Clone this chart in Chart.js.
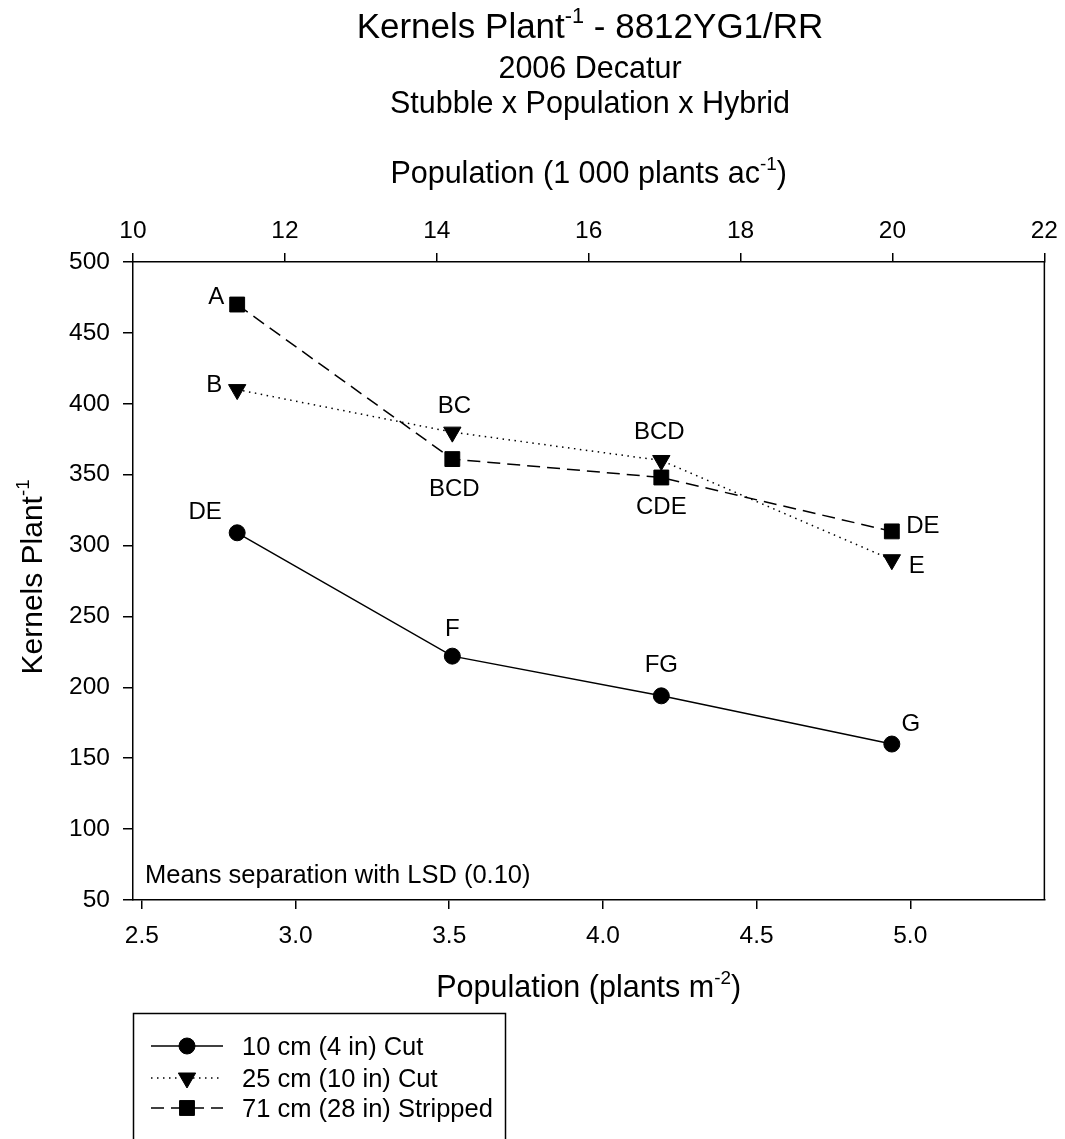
<!DOCTYPE html>
<html><head><meta charset="utf-8">
<script src="https://cdn.jsdelivr.net/npm/chart.js@4.4.0/dist/chart.umd.min.js"></script>
<style>html,body{margin:0;padding:0;background:#fff;} canvas{display:block;}</style>
</head><body>
<canvas id="c" width="1065" height="1139"></canvas>
<script>
// ---- data ----
const populationM2 = [2.81, 3.51, 4.19, 4.94];
const cut10 = [309, 222, 194, 160];
const cut25 = [410, 380, 360, 290];
const stripped71 = [470, 361, 348, 310];
const cut10Letters = ['DE', 'F', 'FG', 'G'];
const cut25Letters = ['B', 'BC', 'BCD', 'E'];
const stripped71Letters = ['A', 'BCD', 'CDE', 'DE'];
const seriesNames = ['10 cm (4 in) Cut', '25 cm (10 in) Cut', '71 cm (28 in) Stripped'];
const bottomTicks = [2.5, 3.0, 3.5, 4.0, 4.5, 5.0];
const topTicks = [10, 12, 14, 16, 18, 20, 22];
const yTicks = [50, 100, 150, 200, 250, 300, 350, 400, 450, 500];
const ACRE_TO_M2 = 0.247105; // 1000 plants/ac -> plants/m2

const FONT = "'Liberation Sans', Arial, sans-serif";

// label placement (pixel offsets from each point)
const letterOffsets = [
  [[-32, -22], [0, -29], [0, -32], [19, -22]],
  [[-23, -6], [2, -28], [-2, -30], [25, 5]],
  [[-21, -9], [2, 28], [0, 28], [31, -7]]
];
const letterSets = [cut10Letters, cut25Letters, stripped71Letters];

function pts(ys) { return populationM2.map((x, i) => ({ x: x, y: ys[i] })); }

function drawRich(ctx, parts, x, y, size, align) {
  const supSize = size * 0.62;
  let w = 0;
  parts.forEach(p => {
    ctx.font = (p[1] ? supSize : size) + 'px ' + FONT;
    w += ctx.measureText(p[0]).width;
  });
  let cx = align === 'center' ? x - w / 2 : x;
  ctx.textAlign = 'left';
  ctx.textBaseline = 'alphabetic';
  parts.forEach(p => {
    ctx.font = (p[1] ? supSize : size) + 'px ' + FONT;
    ctx.fillText(p[0], cx, p[1] ? y - size * 0.42 : y);
    cx += ctx.measureText(p[0]).width;
  });
}

const decorPlugin = {
  id: 'decor',
  afterDatasetsDraw(chart) {
    const ctx = chart.ctx;
    const ca = chart.chartArea;
    ctx.save();
    ctx.fillStyle = '#000';
    ctx.strokeStyle = '#000';
    // right frame line
    ctx.lineWidth = 1.5;
    ctx.beginPath();
    ctx.moveTo(ca.right, ca.top);
    ctx.lineTo(ca.right, ca.bottom);
    ctx.stroke();

    // point letters
    const fs = 24;
    ctx.font = fs + 'px ' + FONT;
    ctx.textAlign = 'center';
    ctx.textBaseline = 'alphabetic';
    chart.data.datasets.forEach((ds, i) => {
      const meta = chart.getDatasetMeta(i);
      meta.data.forEach((el, j) => {
        const off = letterOffsets[i][j];
        ctx.fillText(letterSets[i][j], el.x + off[0], el.y + off[1] + fs * 0.36);
      });
    });

    // annotation
    ctx.textAlign = 'left';
    ctx.font = '25.5px ' + FONT;
    ctx.fillText('Means separation with LSD (0.10)', ca.left + 12, ca.bottom - 17);

    // titles
    const cxm = 590;
    drawRich(ctx, [['Kernels Plant', false], ['-1', true], [' - 8812YG1/RR', false]], cxm, 38, 35, 'center');
    drawRich(ctx, [['2006 Decatur', false]], cxm, 78, 30.5, 'center');
    drawRich(ctx, [['Stubble x Population x Hybrid', false]], cxm, 113, 30.5, 'center');
    drawRich(ctx, [['Population (1 000 plants ac', false], ['-1', true], [')', false]], (ca.left + ca.right) / 2, 183, 30.5, 'center');
    drawRich(ctx, [['Population (plants m', false], ['-2', true], [')', false]], (ca.left + ca.right) / 2, 997, 30.5, 'center');
    // y title
    ctx.save();
    ctx.translate(42, (ca.top + ca.bottom) / 2 - 4);
    ctx.rotate(-Math.PI / 2);
    drawRich(ctx, [['Kernels Plant', false], ['-1', true]], 0, 0, 30, 'center');
    ctx.restore();

    // legend
    const lx = 133, ly = 1013, lw = 372, lh = 200;
    ctx.lineWidth = 1.5;
    ctx.strokeRect(lx + 0.5, ly + 0.5, lw, lh);
    const rowY = [1046, 1078, 1108];
    chart.data.datasets.forEach((ds, i) => {
      const y = rowY[i];
      ctx.save();
      ctx.lineWidth = ds.borderWidth;
      ctx.setLineDash(ds.borderDash || []);
      ctx.beginPath();
      ctx.moveTo(151, y);
      ctx.lineTo(223, y);
      ctx.stroke();
      ctx.restore();
      ctx.save();
      ctx.setLineDash([]);
      ctx.fillStyle = '#000';
      ctx.strokeStyle = '#000';
      ctx.lineWidth = ds.pointBorderWidth;
      Chart.helpers.drawPoint(ctx, { pointStyle: ds.pointStyle, rotation: ds.pointRotation || 0, radius: ds.pointRadius, borderWidth: ds.pointBorderWidth }, 187, y);
      ctx.restore();
      ctx.font = '25.5px ' + FONT;
      ctx.textAlign = 'left';
      ctx.fillText(ds.label, 242, y + 25.5 * 0.36);
    });
    ctx.restore();
  }
};

const common = { borderColor: '#000', backgroundColor: '#000', pointBackgroundColor: '#000', pointBorderColor: '#000', borderWidth: 1.5, pointBorderWidth: 1, tension: 0, showLine: true, xAxisID: 'x', yAxisID: 'y' };

new Chart(document.getElementById('c'), {
  type: 'line',
  data: {
    datasets: [
      Object.assign({}, common, { label: seriesNames[0], data: pts(cut10), pointStyle: 'circle', pointRadius: 8 }),
      Object.assign({}, common, { label: seriesNames[1], data: pts(cut25), pointStyle: 'triangle', pointRotation: 180, pointRadius: 10, borderDash: [1.5, 4.5] }),
      Object.assign({}, common, { label: seriesNames[2], data: pts(stripped71), pointStyle: 'rect', pointRadius: 10.5, borderDash: [13, 7] })
    ]
  },
  options: {
    responsive: false,
    animation: false,
    devicePixelRatio: 1,
    layout: { padding: { left: 0, right: 20, top: 0, bottom: 0 } },
    plugins: { legend: { display: false }, tooltip: { enabled: false }, title: { display: false } },
    scales: {
      x: {
        type: 'linear', position: 'bottom',
        min: topTicks[0] * ACRE_TO_M2, max: topTicks[topTicks.length - 1] * ACRE_TO_M2,
        afterBuildTicks: s => { s.ticks = bottomTicks.map(v => ({ value: v })); },
        afterFit: s => { s.height = 239; },
        grid: { drawOnChartArea: false, drawTicks: true, tickLength: 9, color: '#000', lineWidth: 1.5 },
        border: { display: true, color: '#000', width: 1.5 },
        ticks: { color: '#000', padding: 13, maxRotation: 0, font: { family: FONT, size: 24.5 }, callback: v => Number(v).toFixed(1) }
      },
      x2: {
        type: 'linear', position: 'top',
        min: topTicks[0], max: topTicks[topTicks.length - 1],
        afterBuildTicks: s => { s.ticks = topTicks.map(v => ({ value: v })); },
        afterFit: s => { s.height = 262; },
        grid: { drawOnChartArea: false, drawTicks: true, tickLength: 9, color: '#000', lineWidth: 1.5 },
        border: { display: true, color: '#000', width: 1.5 },
        ticks: { color: '#000', padding: 7, maxRotation: 0, font: { family: FONT, size: 24.5 }, callback: v => String(v) }
      },
      y: {
        type: 'linear', position: 'left',
        min: yTicks[0], max: yTicks[yTicks.length - 1],
        afterBuildTicks: s => { s.ticks = yTicks.map(v => ({ value: v })); },
        afterFit: s => { s.width = 133; },
        grid: { drawOnChartArea: false, drawTicks: true, tickLength: 10, color: '#000', lineWidth: 1.5 },
        border: { display: true, color: '#000', width: 1.5 },
        ticks: { color: '#000', padding: 13, font: { family: FONT, size: 24.5 }, callback: v => String(v) }
      }
    }
  },
  plugins: [decorPlugin]
});
</script>
</body></html>
